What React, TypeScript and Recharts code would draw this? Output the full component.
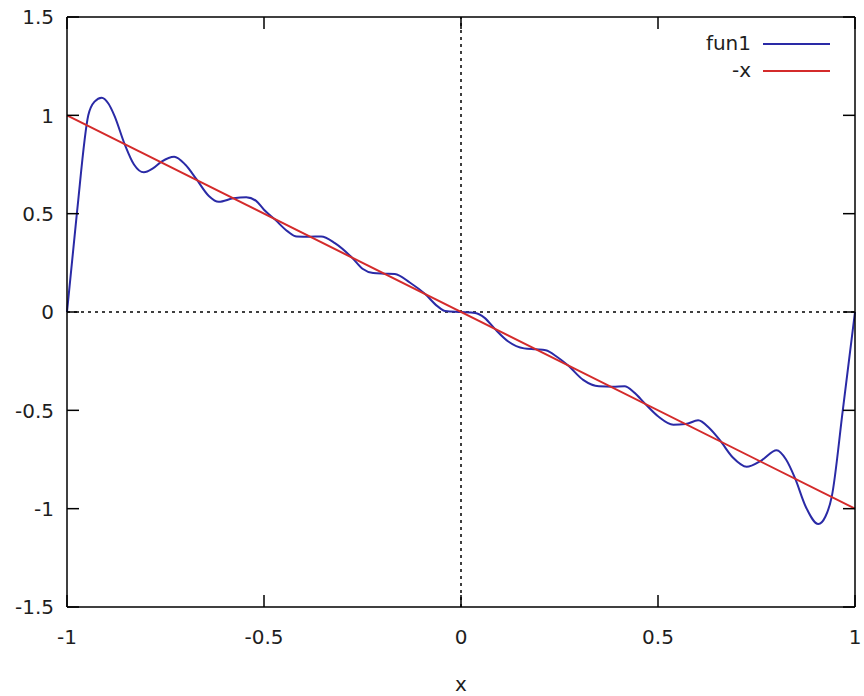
import React from 'react';
import { LineChart, Line, XAxis, YAxis, ReferenceLine, Legend } from 'recharts';

// fun1 (x, y)
const FUN1_X = [
  -1.0, -0.975, -0.946, -0.93, -0.912, -0.895, -0.88, -0.853, -0.83, -0.805, -0.782, -0.76, -0.728, -0.7,
  -0.671, -0.64, -0.615, -0.578, -0.545, -0.52, -0.5, -0.472, -0.44, -0.417, -0.385, -0.355, -0.32, -0.277,
  -0.25, -0.223, -0.195, -0.168, -0.13, -0.091, -0.06, -0.04, 0,
  0.036, 0.06, 0.086, 0.12, 0.16, 0.19, 0.215, 0.245, 0.272, 0.31, 0.35, 0.385, 0.415, 0.44, 0.467, 0.5,
  0.539, 0.57, 0.602, 0.63, 0.657, 0.69, 0.725, 0.763, 0.801, 0.825, 0.848, 0.875, 0.907, 0.925, 0.941,
  0.969, 1.0,
];
const FUN1_Y = [
  0.0, 0.5, 1.0, 1.07, 1.09, 1.06, 1.0, 0.85, 0.75, 0.71, 0.73, 0.765, 0.79, 0.75,
  0.674, 0.59, 0.56, 0.578, 0.584, 0.565, 0.52, 0.47, 0.41, 0.384, 0.383, 0.384, 0.35, 0.277,
  0.22, 0.198, 0.195, 0.193, 0.15, 0.091, 0.03, 0.005, 0,
  -0.005, -0.03, -0.086, -0.15, -0.185, -0.19, -0.195, -0.23, -0.272, -0.345, -0.378, -0.38, -0.378, -0.41, -0.466, -0.53,
  -0.573, -0.57, -0.551, -0.59, -0.652, -0.74, -0.787, -0.754, -0.703, -0.75, -0.846, -0.99, -1.078, -1.04, -0.939,
  -0.5, 0.0,
];
const NEGX_X = [-1, 1];
const NEGX_Y = [1, -1];

const X_TICKS = [-1, -0.5, 0, 0.5, 1];
const Y_TICKS = [-1.5, -1, -0.5, 0, 0.5, 1, 1.5];

const SERIES = [
  { name: 'fun1', color: '#2a2aa6' },
  { name: '-x', color: '#d42b2b' },
];

const fun1Data = FUN1_X.map((x, i) => ({ x, y: FUN1_Y[i] }));
const negxData = NEGX_X.map((x, i) => ({ x, y: NEGX_Y[i] }));

const FONT = '"DejaVu Sans", Verdana, sans-serif';
const TEXT = '#1e1e1e';
const TICK_LEN = 12;
const LEFT_MARGIN = 13;
const BOTTOM_MARGIN = 23;

const LeftTick = (props: any) => {
  const { x, y, payload } = props;
  const ax = x + LEFT_MARGIN;
  return (
    <g>
      <line x1={ax} x2={ax + TICK_LEN} y1={y} y2={y} stroke="#000" strokeWidth={1.5} />
      <text x={x} y={y} dy="0.36em" textAnchor="end" fontFamily={FONT} fontSize={20} fill={TEXT}>
        {String(payload.value)}
      </text>
    </g>
  );
};

const RightTick = (props: any) => {
  const { x, y } = props;
  return <line x1={x - TICK_LEN} x2={x} y1={y} y2={y} stroke="#000" strokeWidth={1.5} />;
};

const BottomTick = (props: any) => {
  const { x, y, payload } = props;
  const ay = y - BOTTOM_MARGIN;
  return (
    <g>
      <line x1={x} x2={x} y1={ay - TICK_LEN} y2={ay} stroke="#000" strokeWidth={1.5} />
      <text x={x} y={y} dy="0.71em" textAnchor="middle" fontFamily={FONT} fontSize={20} fill={TEXT}>
        {String(payload.value)}
      </text>
    </g>
  );
};

const TopTick = (props: any) => {
  const { x, y } = props;
  return <line x1={x} x2={x} y1={y} y2={y + TICK_LEN} stroke="#000" strokeWidth={1.5} />;
};

const renderLegend = () => (
  <div style={{ fontFamily: FONT, fontSize: 20, color: TEXT }}>
    {SERIES.map((s) => (
      <div key={s.name} style={{ display: 'flex', alignItems: 'center', height: 27 }}>
        <span style={{ width: 80, textAlign: 'right', lineHeight: '27px' }}>{s.name}</span>
        <span style={{ display: 'inline-block', width: 67, height: 2, background: s.color, marginLeft: 12 }} />
      </div>
    ))}
  </div>
);

export default function App() {
  return (
    <div style={{ position: 'absolute', left: 0, top: 0, width: 864, height: 696, background: '#fff' }}>
      <LineChart width={864} height={696} margin={{ top: 0, right: 0, bottom: 0, left: 0 }}>
        <XAxis
          dataKey="x"
          type="number"
          domain={[-1, 1]}
          ticks={X_TICKS}
          allowDuplicatedCategory={false}
          height={89}
          tickSize={0}
          tickMargin={BOTTOM_MARGIN}
          tickLine={false}
          axisLine={{ stroke: '#000', strokeWidth: 1.5 }}
          tick={<BottomTick />}
          interval={0}
          label={{ value: 'x', position: 'insideBottom', offset: 5, fontFamily: FONT, fontSize: 20, fill: TEXT }}
        />
        <XAxis
          xAxisId="top"
          dataKey="x"
          type="number"
          orientation="top"
          domain={[-1, 1]}
          ticks={X_TICKS}
          allowDuplicatedCategory={false}
          height={17}
          tickSize={0}
          tickMargin={0}
          tickLine={false}
          axisLine={{ stroke: '#000', strokeWidth: 1.5 }}
          tick={<TopTick />}
          interval={0}
        />
        <YAxis
          type="number"
          domain={[-1.5, 1.5]}
          ticks={Y_TICKS}
          width={67}
          tickSize={0}
          tickMargin={LEFT_MARGIN}
          tickLine={false}
          axisLine={{ stroke: '#000', strokeWidth: 1.5 }}
          tick={<LeftTick />}
          interval={0}
        />
        <YAxis
          yAxisId="right"
          orientation="right"
          type="number"
          domain={[-1.5, 1.5]}
          ticks={Y_TICKS}
          width={9}
          tickSize={0}
          tickMargin={0}
          tickLine={false}
          axisLine={{ stroke: '#000', strokeWidth: 1.5 }}
          tick={<RightTick />}
          interval={0}
        />
        <ReferenceLine y={0} stroke="#000" strokeWidth={1.5} strokeDasharray="3 4" />
        <ReferenceLine x={0} stroke="#000" strokeWidth={1.5} strokeDasharray="3 4" />
        {/* invisible carrier so the mirrored top/right axes are bound to a series */}
        <Line
          xAxisId="top"
          yAxisId="right"
          data={negxData}
          dataKey="y"
          stroke="none"
          strokeOpacity={0}
          dot={false}
          activeDot={false}
          legendType="none"
          isAnimationActive={false}
        />
        <Line
          data={fun1Data}
          dataKey="y"
          name={SERIES[0].name}
          type="monotone"
          stroke={SERIES[0].color}
          strokeWidth={2}
          dot={false}
          activeDot={false}
          isAnimationActive={false}
        />
        <Line
          data={negxData}
          dataKey="y"
          name={SERIES[1].name}
          type="linear"
          stroke={SERIES[1].color}
          strokeWidth={2}
          dot={false}
          activeDot={false}
          isAnimationActive={false}
        />
        <Legend
          layout="vertical"
          align="center"
          verticalAlign="middle"
          content={renderLegend}
          wrapperStyle={{ left: 671, top: 30, width: 170 }}
        />
      </LineChart>
    </div>
  );
}
